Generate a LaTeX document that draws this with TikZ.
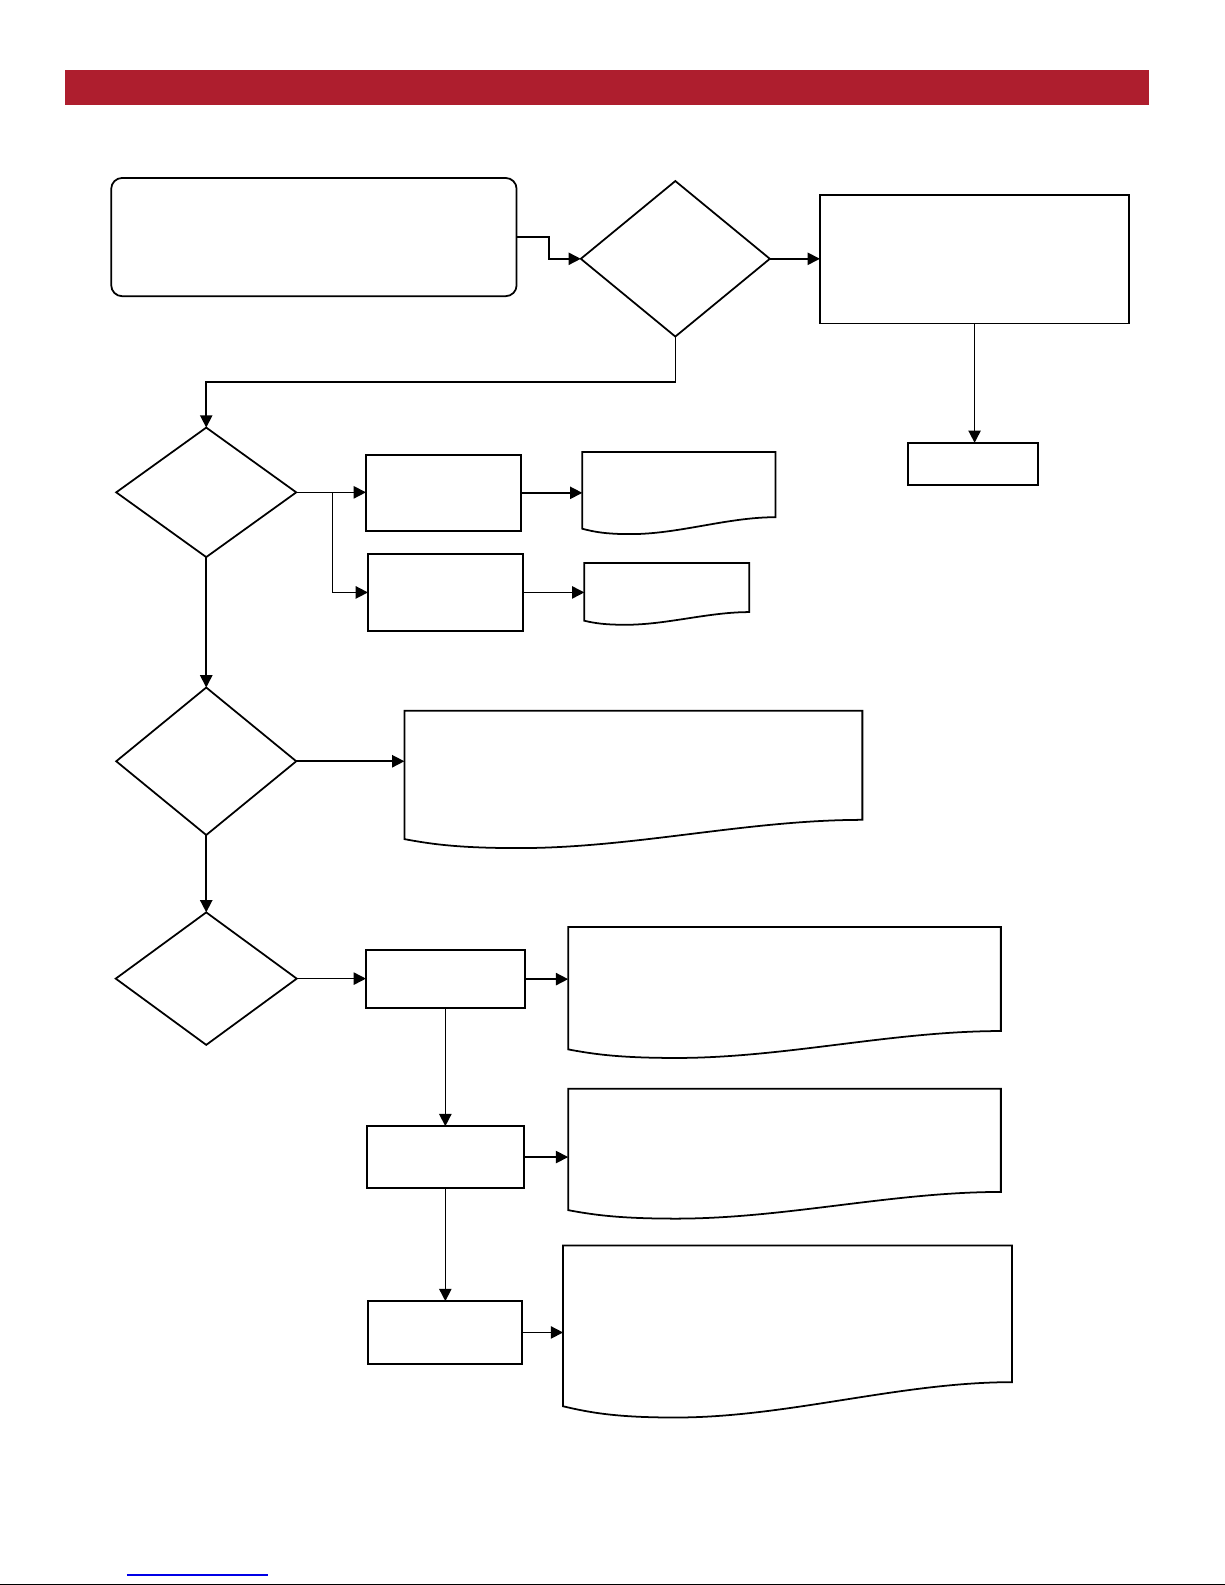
\documentclass[tikz,border=0pt]{standalone}
\usepackage{xcolor}
\usepackage{tikz}
\usetikzlibrary{shapes,arrows.meta,positioning,fit,backgrounds,calc}
\definecolor{barred}{RGB}{174, 30, 46}
\definecolor{linkblue}{RGB}{0, 0, 230}

% document shape: straight top and sides, wavy bottom
\newcommand{\docoutline}[1]{%
  \draw[shape line] let \p1=(#1.north west), \p2=(#1.south east),
      \n1={\x2-\x1}, \n2={\y1-\y2} in
    (\x1,\y1) -- (\x2,\y1) -- (\x2,{\y2+0.15*\n2})
    .. controls ({\x2-0.25*\n1},{\y2+0.15*\n2}) and ({\x1+0.5*\n1},{\y2-0.07*\n2}) .. ({\x1+0.25*\n1},{\y2-0.07*\n2})
    .. controls ({\x1+0.12*\n1},{\y2-0.07*\n2}) and ({\x1+0.06*\n1},{\y2-0.04*\n2}) .. (\x1,\y2) -- cycle;}

\begin{document}
\begin{tikzpicture}[
    x=0.02022cm, y=-0.02022cm,
    shape line/.style={draw=black, line width=1pt},
    box/.style={rectangle, shape line, inner sep=0pt, outer sep=0pt},
    terminal/.style={box, rounded corners=0.22cm},
    decision/.style={diamond, shape line, inner sep=0pt, outer sep=0pt},
    docbox/.style={rectangle, draw=none, inner sep=0pt, outer sep=0pt},
    arrow/.style={-{Triangle[length=7pt, width=7pt]}, line width=0.9pt}
]
\useasboundingbox (0,0) rectangle (1211.6,1567.8);

% Header bar
\fill[barred] (64.3,69.2) rectangle (1136.5,103.9);

% Top row
\node[terminal, fit={(110,176) (511,293)}] (start) {};
\node[decision, minimum width=3.78cm, minimum height=3.11cm] (dec1) at (668,256) {};
\node[box, fit={(811,193) (1117,320)}] (box1) {};
\node[box, fit={(898,438) (1027,480)}] (end1) {};

% Second decision
\node[decision, minimum width=3.6cm, minimum height=2.59cm] (dec2) at (204,487) {};
\node[box, fit={(362,450) (515,525)}] (box2a) {};
\node[box, fit={(364,548) (517,624)}] (box2b) {};
\node[docbox, fit={(576,447) (767,523)}] (doc2a) {};
\node[docbox, fit={(578,557) (741,614)}] (doc2b) {};

% Third decision
\node[decision, minimum width=3.6cm, minimum height=2.95cm] (dec3) at (204,753) {};
\node[docbox, fit={(400,703) (853,830)}] (doc3) {};

% Fourth decision
\node[decision, minimum width=3.62cm, minimum height=2.65cm] (dec4) at (204,968) {};
\node[box, fit={(362,940) (519,997)}] (box4a) {};
\node[box, fit={(363,1114) (518,1175)}] (box4b) {};
\node[box, fit={(364,1287) (516,1349)}] (box4c) {};
\node[docbox, fit={(562,917) (990,1038)}] (doc4a) {};
\node[docbox, fit={(562,1077) (990,1197)}] (doc4b) {};
\node[docbox, fit={(557,1232) (1001,1391)}] (doc4c) {};

% Document outlines
\docoutline{doc2a}
\docoutline{doc2b}
\docoutline{doc3}
\docoutline{doc4a}
\docoutline{doc4b}
\docoutline{doc4c}

% Arrows - Top row
\draw[arrow] (start.east) -- ++(32,0) |- (dec1.west);
\draw[arrow] (dec1.east) -- (dec1.east -| box1.west);
\draw[arrow] (box1.south) -- (box1.south |- end1.north);
\draw[arrow] (dec1.south) -- ++(0,45) -| (dec2.north);

% Arrows - Second decision
\draw[arrow] (dec2.east) -- (dec2.east -| box2a.west);
\draw[arrow] (dec2.east) -- ++(36,0) |- (box2b.west);
\draw[arrow] (box2a.east) -- (box2a.east -| doc2a.west);
\draw[arrow] (box2b.east) -- (box2b.east -| doc2b.west);

% Arrows - Third decision
\draw[arrow] (dec2.south) -- (dec3.north);
\draw[arrow] (dec3.east) -- (dec3.east -| doc3.west);

% Arrows - Fourth decision
\draw[arrow] (dec3.south) -- (dec4.north);
\draw[arrow] (dec4.east) -- (dec4.east -| box4a.west);
\draw[arrow] (box4a.east) -- (box4a.east -| doc4a.west);
\draw[arrow] (box4a.south) -- (box4a.south |- box4b.north);
\draw[arrow] (box4b.east) -- (box4b.east -| doc4b.west);
\draw[arrow] (box4b.south) -- (box4b.south |- box4c.north);
\draw[arrow] (box4c.east) -- (box4c.east -| doc4c.west);

% Footer lines
\draw[linkblue, line width=1.2pt] (125.6,1557.9) -- (265.1,1557.9);
\draw[line width=0.6pt] (0,1567) -- (1211.6,1567);

\end{tikzpicture}
\end{document}
